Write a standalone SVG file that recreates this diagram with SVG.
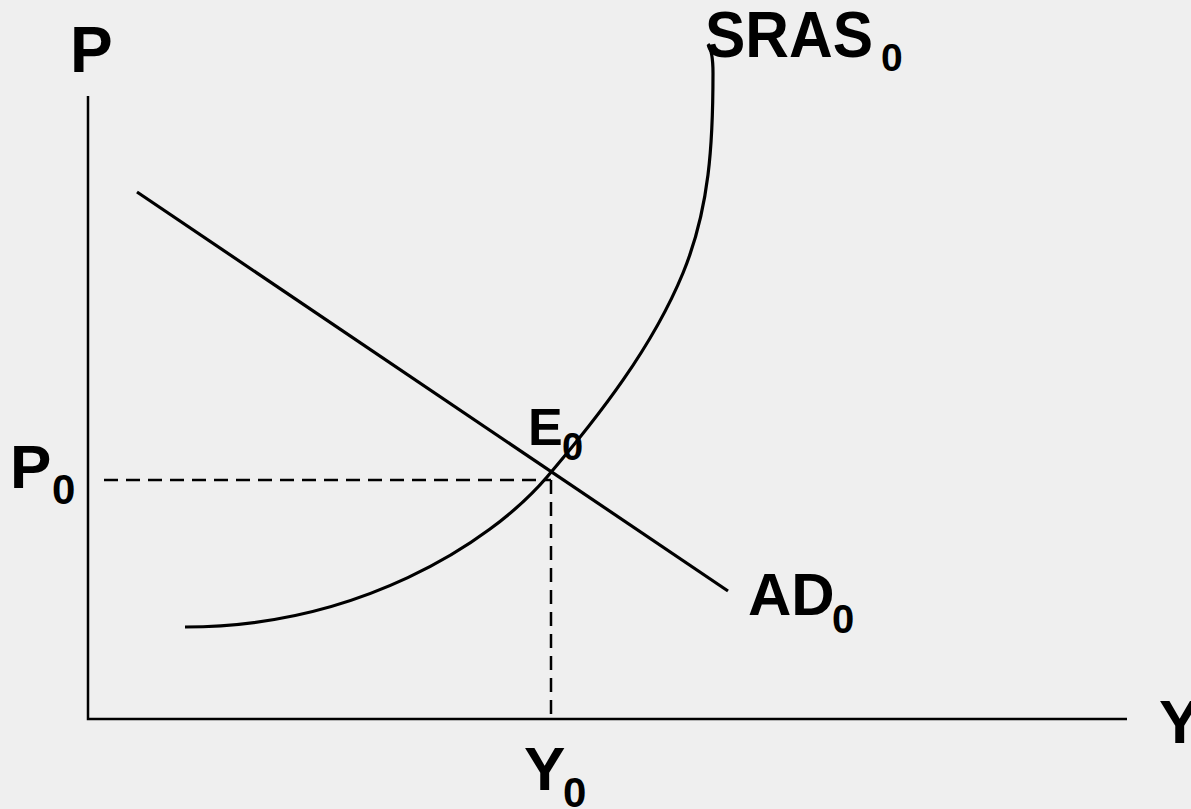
<svg xmlns="http://www.w3.org/2000/svg" width="1191" height="809" viewBox="0 0 1191 809">
<style>
.lbl{font-family:"Liberation Sans",Arial,sans-serif;font-weight:bold;fill:#000}
.ax{stroke:#000;stroke-width:2.5;fill:none}
.crv{stroke:#000;stroke-width:3.2;fill:none;stroke-linecap:butt;stroke-linejoin:round}
.dash{stroke:#000;stroke-width:2.5;fill:none;stroke-dasharray:14 8}
</style>
<rect width="1191" height="809" fill="#efefef"/>
<g id="axes">
<polyline class="ax" points="88,96 88,719 1127,719"/>
</g>
<g id="connectors">
<line id="ad0" class="crv" x1="137" y1="192" x2="728" y2="591"/>
<path id="sras0" class="crv" d="M185,627 C355,627 488.5,545.4 547,477 C599,416.2 652.6,347 683,273 C709.6,208.25 713,143 713,73 C713,62 712,50 708,44"/>
<line class="dash" x1="104" y1="480" x2="551" y2="480"/>
<line class="dash" x1="551" y1="480" x2="551" y2="718"/>
</g>
<g id="label-P"><text class="lbl" x="70" y="72" font-size="64">P</text></g>
<g id="label-SRAS0"><text class="lbl" x="705" y="57" font-size="64" textLength="168" lengthAdjust="spacingAndGlyphs">SRAS</text><text class="lbl" x="881" y="71" font-size="39">0</text></g>
<g id="label-P0"><text class="lbl" x="10" y="488" font-size="62">P</text><text class="lbl" x="52" y="504" font-size="42">0</text></g>
<g id="label-E0"><text class="lbl" x="528" y="445" font-size="52">E</text><text class="lbl" x="562" y="460" font-size="38">0</text></g>
<g id="label-AD0"><text class="lbl" x="748" y="615" font-size="60">AD</text><text class="lbl" x="832" y="633" font-size="40">0</text></g>
<g id="label-Y0"><text class="lbl" x="524" y="790" font-size="62">Y</text><text class="lbl" x="563" y="807" font-size="42">0</text></g>
<g id="label-Y"><text class="lbl" x="1159" y="743" font-size="62">Y</text></g>
</svg>
